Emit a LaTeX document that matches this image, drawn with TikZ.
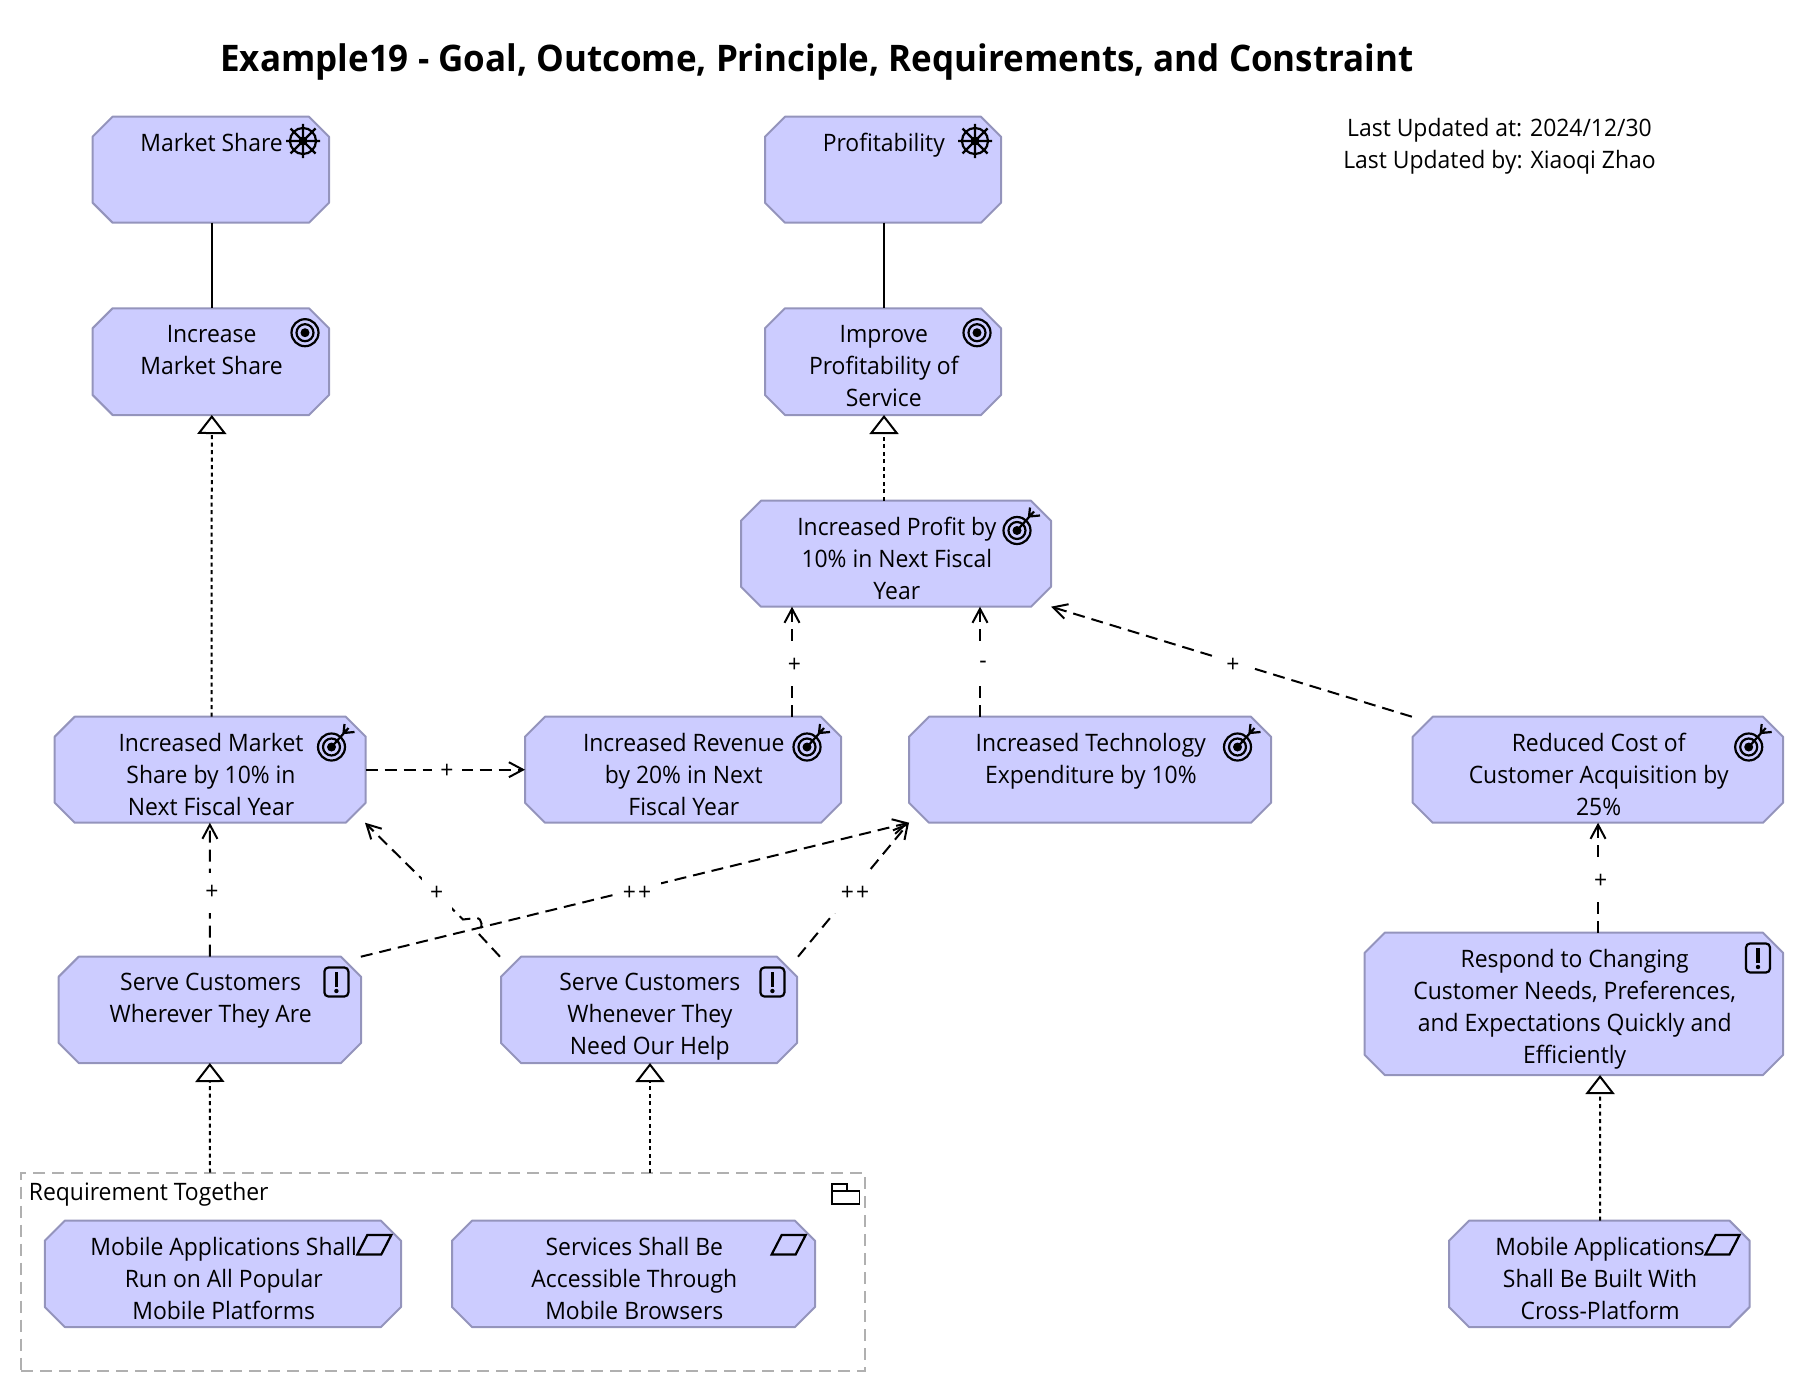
\documentclass[tikz,border=0pt]{standalone}
\usepackage{fontspec}
\usetikzlibrary{arrows.meta,calc}
\newfontfamily\uifont[FakeStretch=0.955]{Open Sans}
\definecolor{elemfill}{HTML}{CCCCFF}
\definecolor{elemline}{HTML}{9494BC}
\definecolor{grpline}{HTML}{B0B0B0}
\tikzset{
  elemframe/.style={inner sep=0pt,outer sep=0pt},
  elembox/.style={draw=elemline,fill=elemfill,line width=2pt,line join=round},
  elemtext/.style={anchor=north,inner sep=0pt,align=center,text=black,
    font=\fontsize{24}{32}\selectfont\uifont,execute at begin node=\strut},
  conlab/.style={fill=white,inner sep=0pt,minimum height=40pt,minimum width=30pt,text=black,
    font=\fontsize{24}{24}\selectfont\uifont},
  widelab/.style={conlab,minimum width=48pt},
  assoc/.style={line width=2pt,black},
  realiz/.style={line width=2pt,black,dash pattern=on 4pt off 3.5pt,
    -{Triangle[open,length=19pt,width=29pt,line width=2pt]}},
  influ/.style={line width=2pt,black,dash pattern=on 12pt off 7pt,
    -{Straight Barb[length=14pt,width=15pt,line width=2pt]}},
  icon/.style={line width=2.2pt,black}
}
\newcommand{\elem}[6]{%
  \node[elemframe,minimum width={(#4-#2)*1pt},minimum height={(#5-#3)*1pt}] (#1) at ({(#2+#4)/2},{(#3+#5)/2}) {};
  \draw[elembox] ([xshift=20pt]#1.north west) -- ([xshift=-20pt]#1.north east) -- ([yshift=-20pt]#1.north east)
    -- ([yshift=20pt]#1.south east) -- ([xshift=-20pt]#1.south east) -- ([xshift=20pt]#1.south west)
    -- ([yshift=20pt]#1.south west) -- ([yshift=-20pt]#1.north west) -- cycle;
  \node[elemtext] (#1-text) at ($(#1.north)+(0.8,16.5)$) {#6};
}
\newcommand{\wheelicon}[2]{%
  \begin{scope}[shift={(#1,#2)}]
    \draw[icon] (0,0) circle[radius=13pt];
    \fill (0,0) circle[radius=4.5pt];
    \draw[icon] (-17,0)--(17,0) (0,-17)--(0,17) (-12.5,-12.5)--(12.5,12.5) (-12.5,12.5)--(12.5,-12.5);
  \end{scope}}
\newcommand{\goalicon}[2]{%
  \begin{scope}[shift={(#1,#2)}]
    \draw[icon] (0,0) circle[radius=13.5pt] (0,0) circle[radius=8.5pt];
    \fill (0,0) circle[radius=4.5pt];
  \end{scope}}
\newcommand{\outcomeicon}[2]{%
  \goalicon{#1}{#2}
  \begin{scope}[shift={(#1,#2)}]
    \draw[icon] (0,0)--(17,-19) (13,-23)--(12,-14)--(23,-15);
  \end{scope}}
\newcommand{\drivericon}[2]{%
  \begin{scope}[shift={(#1,#2)}]
    \draw[icon,rounded corners=4pt] (-12,-14.5) rectangle (12,14.5);
    \draw[line width=3.5pt] (0,-10)--(0,4.5);
    \fill (0,9) circle[radius=2.2pt];
  \end{scope}}
\newcommand{\reqicon}[2]{%
  \begin{scope}[shift={(#1,#2)}]
    \draw[icon] (-7,-9.7)--(17,-9.7)--(7,9.7)--(-17,9.7)--cycle;
  \end{scope}}
\begin{document}
\begin{tikzpicture}[x=1pt,y=-1pt]
\useasboundingbox (0,0) rectangle (1806,1394);
\node[inner sep=0pt,anchor=base,font=\fontsize{36.6}{44}\selectfont\uifont\bfseries] (title) at (817,72) {Example19 - Goal, Outcome, Principle, Requirements, and Constraint};
\node[elemtext] (updated) at (1499.5,118.1) {Last Updated at: 2024/12/30\\Last Updated by: Xiaoqi Zhao};

% group
\node[draw=grpline,line width=2pt,dash pattern=on 12pt off 7pt,minimum width=844pt,minimum height=198pt,inner sep=0pt,outer sep=0pt] (grp) at (443,1271.7) {};
\node[anchor=base west,inner sep=0pt,font=\fontsize{24}{32}\selectfont\uifont] (grplabel) at (28.7,1200) {Requirement Together};
\draw[line width=1.7pt] (831.8,1204.3) rectangle (859.4,1190.7) (831.8,1190.7)--(831.8,1184)--(846.7,1184)--(846.7,1190.7);

% elements
\elem{mkt}{92.6}{116.7}{329}{222.7}{Market Share\\{}}
\elem{prf}{765}{116.7}{1001}{222.7}{Profitability\\{}}
\elem{inc}{92.6}{308.3}{329}{415}{Increase\\Market Share}
\elem{imp}{765}{308.3}{1001}{415}{Improve\\Profitability of\\Service}
\elem{prof}{741}{500.7}{1051}{606.7}{Increased Profit by\\10\% in Next Fiscal\\Year}
\elem{imk}{54.7}{716.7}{365.7}{822.7}{Increased Market\\Share by 10\% in\\Next Fiscal Year}
\elem{rev}{525}{716.7}{841}{822.7}{Increased Revenue\\by 20\% in Next\\Fiscal Year}
\elem{tech}{909}{716.7}{1271}{822.7}{Increased Technology\\Expenditure by 10\%}
\elem{red}{1412.7}{716.7}{1783}{822.7}{Reduced Cost of\\Customer Acquisition by\\25\%}
\elem{ww}{58.7}{956.7}{361}{1063}{Serve Customers\\Wherever They Are}
\elem{wn}{501}{956.7}{797}{1063}{Serve Customers\\Whenever They\\Need Our Help}
\elem{resp}{1364.7}{932.7}{1783}{1075}{Respond to Changing\\Customer Needs, Preferences,\\and Expectations Quickly and\\Efficiently}
\elem{mob}{44.8}{1220.7}{401}{1327}{Mobile Applications Shall\\Run on All Popular\\Mobile Platforms}
\elem{svc}{452}{1220.7}{815}{1327}{Services Shall Be\\Accessible Through\\Mobile Browsers}
\elem{mcp}{1449}{1220.7}{1749.6}{1327}{Mobile Applications\\Shall Be Built With\\Cross-Platform}

% icons
\wheelicon{303}{141}\wheelicon{975}{141}
\goalicon{305}{332.7}\goalicon{977}{332.7}
\outcomeicon{1017}{530.5}\outcomeicon{331.5}{747}\outcomeicon{807}{747}\outcomeicon{1237.5}{747}\outcomeicon{1748.7}{747}
\drivericon{336.4}{982}\drivericon{772.4}{982}\drivericon{1758}{958}
\reqicon{374.3}{1244.7}\reqicon{788.7}{1244.7}\reqicon{1722.5}{1244.7}

% connectors
\draw[assoc] ([xshift=1pt]mkt.south) -- ([xshift=1pt]inc.north);
\draw[assoc] ([xshift=1pt]prf.south) -- ([xshift=1pt]imp.north);
\draw[realiz] ([xshift=1.4pt]imk.north) -- ([xshift=1pt]inc.south);
\draw[realiz] ([xshift=-12pt]prof.north) -- ([xshift=1pt]imp.south);
\draw[realiz] ([xshift=-233pt]grp.north) -- (ww.south);
\draw[realiz] ([xshift=207pt]grp.north) -- ([xshift=1pt]wn.south);
\draw[realiz] ([xshift=0.7pt]mcp.north) -- ([xshift=26.2pt]resp.south);

\draw[influ] ([xshift=109pt]rev.north) -- ([xshift=-104pt]prof.south);
\draw[influ] ([xshift=-110pt]tech.north) -- ([xshift=84pt]prof.south);
\draw[influ] ([xshift=-186pt]red.north) -- ([xshift=155pt]prof.south);
\draw[influ] (imk.east) -- (rev.west);
\draw[influ] (ww.north) -- ([xshift=-.3pt]imk.south);
\coordinate (hopa) at (478,933);
\coordinate (hopb) at (476,918);
\coordinate (hopc) at (463,919.5);
\draw[influ] ([xshift=-149pt]wn.north) -- (hopa) .. controls (483,928) and (483,918) .. (hopb) -- (hopc) -- ([xshift=154.8pt]imk.south);
\draw[influ] ([xshift=151pt]ww.north) -- ([xshift=-181pt]tech.south);
\draw[influ] ([xshift=149pt]wn.north) -- ([xshift=-181pt]tech.south);
\draw[influ] ([xshift=24.2pt]resp.north) -- ([xshift=.2pt]red.south);

% connector labels
\node[conlab] (l1) at (794.5,665) {+};
\node[conlab] (l2) at (983,665) {-};
\node[conlab,minimum width=38pt] (l3) at (1232,665) {\kern2pt+};
\node[conlab] (l4) at (447,771) {+};
\node[conlab] (l5) at (212,892.6) {+};
\node[conlab] (l6) at (436.6,893) {+};
\node[widelab] (l7) at (637,893) {+\kern2pt+};
\node[widelab] (l8) at (855,893) {+\kern2pt+};
\node[conlab] (l9) at (1600.7,881.7) {+};
\end{tikzpicture}
\end{document}
